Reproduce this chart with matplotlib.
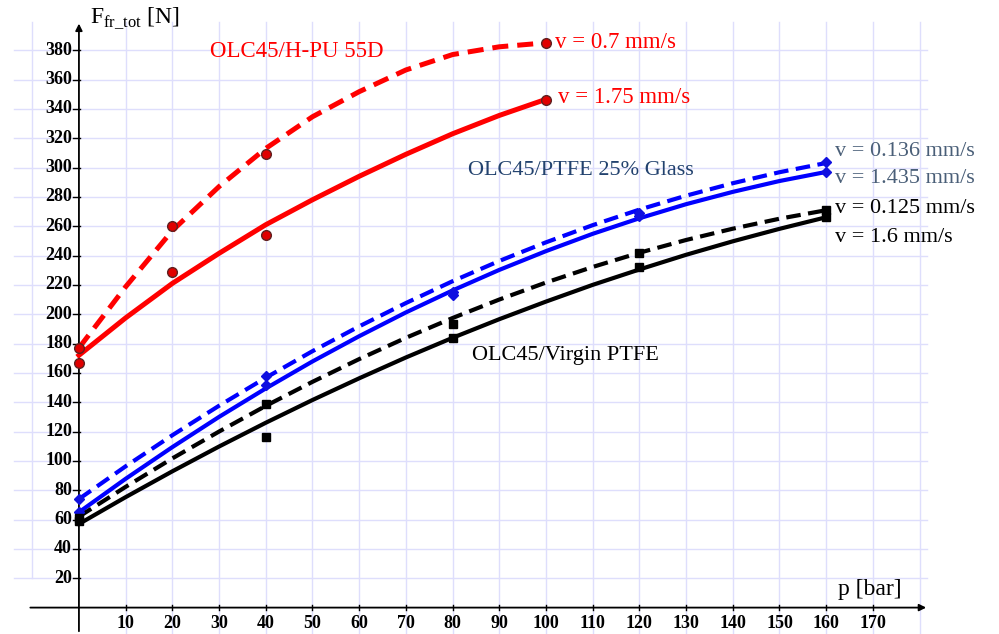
import numpy as np
import matplotlib
matplotlib.use("Agg")
import matplotlib.pyplot as plt

plt.rcParams['font.family'] = ['Liberation Serif', 'DejaVu Serif']
plt.rcParams['mathtext.fontset'] = 'custom'
plt.rcParams['mathtext.rm'] = 'Liberation Serif'

# measured points (p in bar, F in N)
p_red = [0, 20, 40, 100]
f_red_07 = [177, 260, 309, 385]
f_red_175 = [167, 229, 254, 346]

p_pts = [0, 40, 80, 120, 160]
f_blue_0136 = [74, 158, 213, 269, 304]
f_blue_1435 = [65, 152, 215, 267, 297]
f_black_0125 = [61, 139, 193, 242, 271]
f_black_16 = [59, 116, 184, 232, 266]

# trend curves every 10 bar
p_curve_red = [0, 10, 20, 30, 40, 50, 60, 70, 80, 90, 100]
c_red_07 = [177, 218.7, 257, 287, 313, 334.6, 351.7, 366.5, 377, 382.3, 385]
c_red_175 = [172, 197.5, 221, 241.5, 261, 278, 294, 309, 323, 335.5, 346.5]

p_curve = [0, 10, 20, 30, 40, 50, 60, 70, 80, 90, 100, 110, 120, 130, 140, 150, 160]
c_blue_0136 = [74, 96.3, 117.5, 137.6, 156.7, 174.8, 191.7, 207.6, 222.5, 236.3,
               249, 260.7, 271.3, 280.8, 289.3, 296.8, 303.1]
c_blue_1435 = [65, 87.8, 109.4, 130, 149.4, 167.8, 185, 201.2, 216.2, 230.2,
               243, 254.8, 265.4, 275, 283.4, 290.8, 297]
c_black_0125 = [62, 82.3, 101.7, 120, 137.5, 153.9, 169.4, 183.9, 197.4, 210,
                221.6, 232.2, 241.9, 250.6, 258.3, 265.1, 270.9]
c_black_16 = [57, 75.3, 92.9, 109.8, 126, 141.5, 156.3, 170.5, 183.9, 196.6,
              208.6, 220, 230.5, 240.5, 249.7, 258.2, 266.1]

x_ticks = list(range(10, 180, 10))
y_ticks = list(range(20, 400, 20))

fig = plt.figure(figsize=(9.99, 6.34), dpi=100)
ax = fig.add_axes([0, 0, 1, 1])
ax.set_xlim(-16.9, 197)
ax.set_ylim(-18, 414.2)

# grid
grid_c = '#dedefc'
for gx in range(-10, 190, 10):
    if gx == 0:
        continue
    y0 = 20 if gx == -10 else -18
    ax.plot([gx, gx], [y0, 399], color=grid_c, lw=1.0, zorder=0)
for gy in y_ticks:
    ax.plot([-14, 181.6], [gy, gy], color=grid_c, lw=1.0, zorder=0)

# axes with arrows
for s in ax.spines.values():
    s.set_visible(False)
ax.annotate('', xy=(182, 0), xytext=(-11, 0),
            arrowprops=dict(arrowstyle='-|>', color='black', lw=1.3, mutation_scale=10), zorder=3)
ax.annotate('', xy=(0, 400), xytext=(0, -18),
            arrowprops=dict(arrowstyle='-|>', color='black', lw=1.3, mutation_scale=10), zorder=3)
for tx in x_ticks:
    ax.plot([tx, tx], [-1.5, 1.5], color='black', lw=1)
    ax.text(tx, -5, str(tx), ha='center', va='top', fontsize=13, fontweight='bold')
for ty in y_ticks:
    ax.plot([-1.3, 0.3], [ty, ty], color='black', lw=1)
    ax.text(-1.5, ty, str(ty), ha='right', va='center', fontsize=13, fontweight='bold')
ax.set_xticks([])
ax.set_yticks([])

# curves
ax.plot(p_curve_red, c_red_07, color='#ff0000', lw=3.6, ls=(0, (3.2, 1.8)), zorder=4)
ax.plot(p_curve_red, c_red_175, color='#ff0000', lw=3.6, zorder=4)
ax.plot(p_curve, c_blue_0136, color='#0000ff', lw=3.0, ls=(0, (3.5, 1.8)), zorder=4)
ax.plot(p_curve, c_blue_1435, color='#0000ff', lw=3.0, zorder=4)
ax.plot(p_curve, c_black_0125, color='black', lw=3.0, ls=(0, (3.5, 1.8)), zorder=4)
ax.plot(p_curve, c_black_16, color='black', lw=3.0, zorder=4)

# points
ax.plot(p_red, f_red_07, 'o', ms=7, mfc='#e00000', mec='#602020', mew=1, zorder=5)
ax.plot(p_red, f_red_175, 'o', ms=7, mfc='#e00000', mec='#602020', mew=1, zorder=5)
ax.plot(p_pts, f_blue_0136, 'D', ms=5, color='#1010e0', zorder=5)
ax.plot(p_pts, f_blue_1435, 'D', ms=5, color='#1010e0', zorder=5)
ax.plot(p_pts, f_black_0125, 's', ms=6, color='black', zorder=5)
ax.plot(p_pts, f_black_16, 's', ms=6, color='black', zorder=5)

# labels
ax.text(2.3, 402, r'F$_{\mathrm{fr\_tot}}$ [N]', fontsize=17, ha='left', va='center')
ax.text(162.5, 12, 'p [bar]', fontsize=17, ha='left', va='center')
ax.text(28, 379, 'OLC45/H-PU 55D', color='#ff0000', fontsize=16.5, ha='left', va='center')
ax.text(102, 385.5, 'v = 0.7 mm/s', color='#ff0000', fontsize=16.5, ha='left', va='center')
ax.text(102.6, 347.4, 'v = 1.75 mm/s', color='#ff0000', fontsize=16.5, ha='left', va='center')
ax.text(83.3, 298, 'OLC45/PTFE 25% Glass', color='#22426e', fontsize=16, ha='left', va='center')
ax.text(161.9, 310.6, 'v = 0.136 mm/s', color='#4a5f78', fontsize=16, ha='left', va='center')
ax.text(161.9, 292.8, 'v = 1.435 mm/s', color='#4a5f78', fontsize=16, ha='left', va='center')
ax.text(161.9, 272.4, 'v = 0.125 mm/s', color='black', fontsize=16, ha='left', va='center')
ax.text(161.9, 252.6, 'v = 1.6 mm/s', color='black', fontsize=16, ha='left', va='center')
ax.text(84.2, 171.6, 'OLC45/Virgin PTFE', color='black', fontsize=16, ha='left', va='center')

fig.savefig('out.png', dpi=100)
